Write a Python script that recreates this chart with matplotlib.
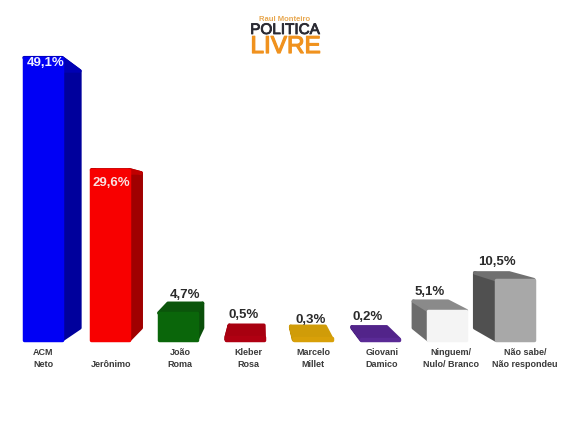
import matplotlib
matplotlib.use('Agg')
import matplotlib.pyplot as plt
from matplotlib.patches import Polygon
import matplotlib.patheffects as pe

plt.rcParams['font.family'] = ['Liberation Sans', 'DejaVu Sans']

names = ['ACM\nNeto', '\nJerônimo', 'João\nRoma', 'Kleber\nRosa', 'Marcelo\nMillet',
         'Giovani\nDamico', 'Ninguem/\nNulo/ Branco', 'Não sabe/\nNão respondeu']
values = [49.1, 29.6, 4.7, 0.5, 0.3, 0.2, 5.1, 10.5]
value_labels = ['49,1%', '29,6%', '4,7%', '0,5%', '0,3%', '0,2%', '5,1%', '10,5%']
front_colors = ['#0000f5', '#f80000', '#0a660a', '#b00012', '#d8a008', '#5a2a96', '#f4f4f4', '#a8a8a8']
side_colors = ['#00009c', '#a00000', '#0a4f0a', '#8c000c', '#c09008', '#4a1f80', '#6c6c6c', '#505050']
top_colors = ['#0000b4', '#c00000', '#0b550b', '#a80010', '#d09c08', '#52248a', '#8a8a8a', '#707070']
label_colors = ['#f0f0ff', '#f8e0e0', '#2a2a2a', '#2a2a2a', '#2a2a2a', '#2a2a2a', '#2a2a2a', '#2a2a2a']

# where the texts sit on the picture, in pixels
value_xy = [(46, 63), (111, 183), (185, 295), (244, 315), (311, 320), (368, 317), (430, 292), (497, 262)]
name_xy = [43, 111, 180, 248, 313, 382, 451, 525]

W, H = 570, 428
px_base, px_per_unit = 340.0, 5.75
bar_w = 38.0
x0, x_step = 43.0, 67.4
vp_x, vp_y = 261.0, 205.0
depth = 0.09
edge = 2.5

fig = plt.figure(figsize=(W / 100, H / 100), dpi=100)
ax = fig.add_axes([0, 0, 1, 1])
ax.set_xlim((0 - x0) / x_step, (W - x0) / x_step)
ax.set_ylim((px_base - H) / px_per_unit, px_base / px_per_unit)
ax.axis('off')

vx = (vp_x - x0) / x_step
vy = (px_base - vp_y) / px_per_unit
bw = bar_w / x_step


def back(x, y):
    return (x + (vx - x) * depth, y + (vy - y) * depth)


for i, v in enumerate(values):
    l, r = i - bw / 2, i + bw / 2
    # side face, left or right depending where the bar is from the vanishing point
    sx = r if r < vx else l
    side = [(sx, 0), (sx, v), back(sx, v), back(sx, 0)]
    ax.add_patch(Polygon(side, closed=True, fc=side_colors[i], ec=side_colors[i], lw=edge,
                         joinstyle='round', zorder=2))
    top = [(l, v), (r, v), back(r, v), back(l, v)]
    ax.add_patch(Polygon(top, closed=True, fc=top_colors[i], ec=top_colors[i], lw=edge,
                         joinstyle='round', zorder=2))

bars = ax.bar(range(len(values)), values, width=bw, color=front_colors, edgecolor=front_colors,
              linewidth=edge, zorder=3)
for b in bars:
    b.set_joinstyle('round')

for i in range(len(values)):
    x, y = value_xy[i]
    fig.text(x / W, 1 - y / H, value_labels[i], color=label_colors[i], fontsize=9.5, fontweight='bold',
             ha='center', va='center', zorder=5)
    fig.text(name_xy[i] / W, 1 - 358.5 / H, names[i], color='#3a3a3a', fontsize=6.5, fontweight='bold',
             ha='center', va='center', linespacing=1.3, zorder=5)

# logo
fig.text(285 / W, 1 - 19.5 / H, 'Raul Monteiro', color='#e8a850', fontsize=5.5, fontweight='bold',
         ha='center', va='center')
t1 = fig.text(285 / W, 1 - 30 / H, 'POLITICA', color='#2a2a33', fontsize=11, ha='center', va='center')
t1.set_path_effects([pe.withStroke(linewidth=0.6, foreground='#2a2a33')])
t2 = fig.text(285.5 / W, 1 - 47 / H, 'LIVRE', color='#f0921e', fontsize=17.5, ha='center', va='center')
t2.set_path_effects([pe.withStroke(linewidth=0.9, foreground='#f0921e')])

fig.savefig('out.png', dpi=100)
